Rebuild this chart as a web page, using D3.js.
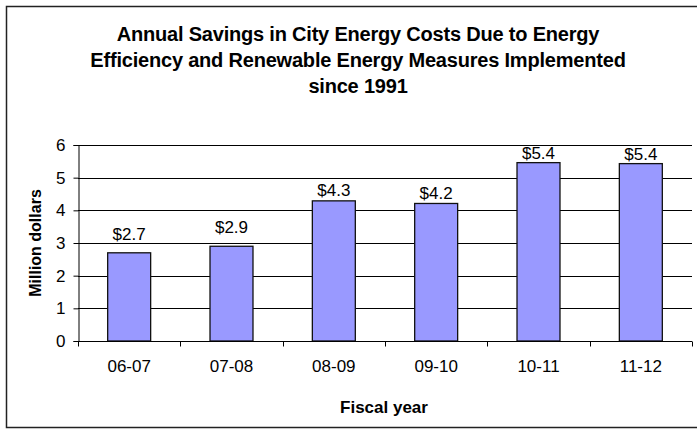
<!DOCTYPE html>
<html>
<head>
<meta charset="utf-8">
<script src="https://cdn.jsdelivr.net/npm/d3@7"></script>
<style>
  body { margin: 0; background: #fff; }
  svg { display: block; font-family: "Liberation Sans", Arial, sans-serif; }
</style>
</head>
<body>
<div id="chart"></div>
<script>
const fiscalYears = ["06-07", "07-08", "08-09", "09-10", "10-11", "11-12"];
const savings = [2.7, 2.9, 4.29, 4.21, 5.46, 5.43];
const savingsLabels = ["$2.7", "$2.9", "$4.3", "$4.2", "$5.4", "$5.4"];
const yTicks = [0, 1, 2, 3, 4, 5, 6];
const titleLines = [
    "Annual Savings in City Energy Costs Due to Energy",
    "Efficiency and Renewable Energy Measures Implemented",
    "since 1991"
];

const width = 697;
const height = 429;
const margin = { top: 145, right: 5, bottom: 88, left: 78 };

const svg = d3.select("#chart")
    .append("svg")
    .attr("width", width)
    .attr("height", height);

// outer frame (right edge falls outside the picture)
svg.append("rect")
    .attr("x", 6.5)
    .attr("y", 6.5)
    .attr("width", 700)
    .attr("height", 421)
    .attr("fill", "none")
    .attr("stroke", "#222")
    .attr("stroke-width", 1.5);

const xScale = d3.scaleBand()
    .domain(fiscalYears)
    .range([margin.left, width - margin.right])
    .paddingInner(0.58)
    .paddingOuter(0.29);

const yScale = d3.scaleLinear()
    .domain([0, 6])
    .range([height - margin.bottom, margin.top]);

// gridlines
svg.append("g")
    .selectAll("line")
    .data(yTicks.slice(1))
    .join("line")
    .attr("x1", margin.left)
    .attr("x2", width - margin.right)
    .attr("y1", d => Math.round(yScale(d)) + 0.5)
    .attr("y2", d => Math.round(yScale(d)) + 0.5)
    .attr("stroke", "#000")
    .attr("stroke-width", 1);

// bars
svg.append("g")
    .selectAll("rect")
    .data(savings)
    .join("rect")
    .attr("x", (d, i) => xScale(fiscalYears[i]))
    .attr("y", d => yScale(d))
    .attr("width", xScale.bandwidth())
    .attr("height", d => yScale(0) - yScale(d))
    .attr("fill", "#9999ff")
    .attr("stroke", "#111")
    .attr("stroke-width", 1.3);

// value labels; the first two sit a bit higher in the original
const labelLift = [13, 13, 5, 4, 4, 4];
svg.append("g")
    .selectAll("text")
    .data(savings)
    .join("text")
    .attr("x", (d, i) => xScale(fiscalYears[i]) + xScale.bandwidth() / 2)
    .attr("y", (d, i) => yScale(d) - labelLift[i])
    .attr("text-anchor", "middle")
    .attr("font-size", 17)
    .attr("fill", "#000")
    .text((d, i) => savingsLabels[i]);

// x axis: ticks between categories
const step = xScale.step();
const xAxisG = svg.append("g")
    .attr("transform", `translate(0,${Math.round(yScale(0)) + 0.5})`);
xAxisG.append("line")
    .attr("x1", margin.left)
    .attr("x2", width - margin.right)
    .attr("stroke", "#000");
xAxisG.selectAll("line.tick")
    .data(d3.range(fiscalYears.length + 1))
    .join("line")
    .attr("class", "tick")
    .attr("x1", i => Math.round(margin.left + i * step) + 0.5)
    .attr("x2", i => Math.round(margin.left + i * step) + 0.5)
    .attr("y1", 0)
    .attr("y2", 5)
    .attr("stroke", "#000");
xAxisG.selectAll("text")
    .data(fiscalYears)
    .join("text")
    .attr("x", d => xScale(d) + xScale.bandwidth() / 2)
    .attr("y", 30)
    .attr("text-anchor", "middle")
    .attr("font-size", 17)
    .text(d => d);

// y axis
const yAxis = d3.axisLeft(yScale)
    .tickValues(yTicks)
    .tickFormat(d3.format("d"))
    .tickSize(5)
    .tickPadding(8);
const yAxisG = svg.append("g")
    .attr("transform", `translate(${margin.left + 0.5},0)`)
    .call(yAxis);
yAxisG.select(".domain").attr("stroke", "#000");
yAxisG.selectAll(".tick line").attr("stroke", "#000");
yAxisG.selectAll(".tick text")
    .attr("font-size", 17)
    .attr("font-family", "Liberation Sans, Arial, sans-serif")
    .attr("fill", "#000");

// axis titles
svg.append("text")
    .attr("x", (margin.left + width - margin.right) / 2 - 1)
    .attr("y", 413)
    .attr("text-anchor", "middle")
    .attr("font-size", 17)
    .attr("font-weight", "bold")
    .text("Fiscal year");

svg.append("text")
    .attr("transform", `translate(41,${(yScale(0) + yScale(6)) / 2}) rotate(-90)`)
    .attr("text-anchor", "middle")
    .attr("font-size", 16)
    .attr("font-weight", "bold")
    .text("Million dollars");

// title
svg.append("g")
    .selectAll("text")
    .data(titleLines)
    .join("text")
    .attr("x", 358)
    .attr("y", (d, i) => 41 + i * 26)
    .attr("text-anchor", "middle")
    .attr("font-size", 20)
    .attr("font-weight", "bold")
    .attr("letter-spacing", -0.2)
    .text(d => d);
</script>
</body>
</html>
